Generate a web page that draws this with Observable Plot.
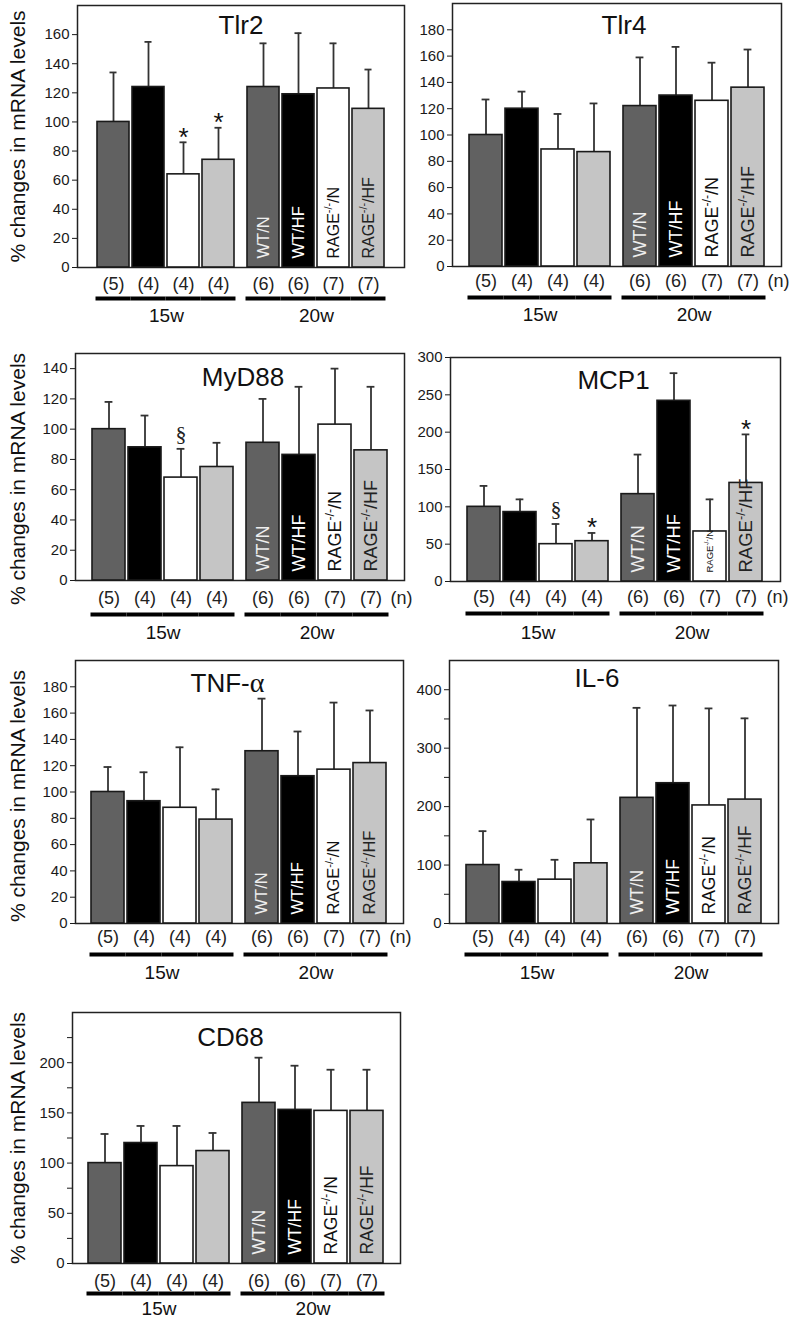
<!DOCTYPE html>
<html><head><meta charset="utf-8">
<script src="https://cdn.jsdelivr.net/npm/d3@7"></script>
<script src="https://cdn.jsdelivr.net/npm/@observablehq/plot@0.6"></script>
<style>
body{margin:0;background:#fff;}
#root{position:relative;width:791px;height:1319px;overflow:hidden;background:#fff;}
#root svg{position:absolute;}
</style></head><body><div id="root"></div>
<script>
// ---- data ----
const groups = ["WT/N", "WT/HF", "RAGE-/-/N", "RAGE-/-/HF"];
const ages = ["15w", "20w"];
const nCounts = [5, 4, 4, 4, 6, 6, 7, 7];
const yTitle = "% changes in mRNA levels";

const tlr2Mean  = [100, 124, 64, 74, 124, 119, 123, 109];
const tlr2Upper = [134, 155, 86, 96, 154, 161, 154, 136];
const tlr2Sig   = ["", "", "*", "*", "", "", "", ""];

const tlr4Mean  = [100, 120, 89, 87, 122, 130, 126, 136];
const tlr4Upper = [127, 133, 116, 124, 159, 167, 155, 165];

const myd88Mean  = [100, 88, 68, 75, 91, 83, 103, 86];
const myd88Upper = [118, 109, 87, 91, 120, 128, 140, 128];
const myd88Sig   = ["", "", "§", "", "", "", "", ""];

const mcp1Mean  = [100, 93, 50, 54, 117, 242, 67, 132];
const mcp1Upper = [128, 110, 77, 65, 170, 279, 110, 197];
const mcp1Sig   = ["", "", "§", "*", "", "", "", "*"];

const tnfMean  = [100, 93, 88, 79, 131, 112, 117, 122];
const tnfUpper = [119, 115, 134, 102, 171, 146, 168, 162];

const il6Mean  = [100, 71, 75, 103, 215, 240, 202, 212];
const il6Upper = [158, 92, 109, 178, 369, 373, 368, 351];

const cd68Mean  = [100, 120, 97, 112, 160, 153, 152, 152];
const cd68Upper = [129, 137, 137, 130, 205, 197, 193, 193];

const ticks20to180 = [0, 20, 40, 60, 80, 100, 120, 140, 160, 180];
const ticks20to160 = [0, 20, 40, 60, 80, 100, 120, 140, 160];
const ticks20to140 = [0, 20, 40, 60, 80, 100, 120, 140];
const ticks50to300 = [0, 50, 100, 150, 200, 250, 300];
const il6Ticks = [0, 50, 100, 150, 200, 250, 300, 350, 400];
const il6Labeled = [0, 100, 200, 300, 400];
const cd68Ticks = [0, 25, 50, 75, 100, 125, 150, 175, 200, 225];
const cd68Labeled = [0, 50, 100, 150, 200];

// ---- styles ----
const barColors = ["#616161", "#000000", "#ffffff", "#c5c5c5"];
const labelColors = ["#eeeeee", "#ffffff", "#111111", "#222222"];
const FONT = "'Liberation Sans', Arial, sans-serif";

const panels = [
  {name: "Tlr2", mean: tlr2Mean, upper: tlr2Upper, sig: tlr2Sig, yMax: 180, ticks: ticks20to160, labeled: ticks20to160,
   col: 0, L: 77, R: 404, T: 5, B: 267, titleDx: 0, titleDy: 20, yTitleDy: 0, labelSize: [16.5, 16.5, 16, 16], showN: false, nDy: 17, lineDy: 31, groupDy: 48},
  {name: "Tlr4", mean: tlr4Mean, upper: tlr4Upper, yMax: 200, ticks: ticks20to180, labeled: ticks20to180,
   col: 1, L: 452, R: 781, T: 3, B: 266, titleDx: 7, titleDy: 22, labelSize: [18, 18, 18, 18], showN: true, nDy: 15, lineDy: 31, groupDy: 48},
  {name: "MyD88", mean: myd88Mean, upper: myd88Upper, sig: myd88Sig, yMax: 150, ticks: ticks20to140, labeled: ticks20to140,
   col: 0, L: 75, R: 404, T: 353, B: 580, titleDx: 3, titleDy: 24, yTitleDy: 12, labelSize: [18, 18, 18, 18], showN: true, nDy: 18, lineDy: 34, groupDy: 52},
  {name: "MCP1", mean: mcp1Mean, upper: mcp1Upper, sig: mcp1Sig, yMax: 300, ticks: ticks50to300, labeled: ticks50to300,
   col: 1, L: 450, R: 780, T: 357, B: 581, titleDx: -2, titleDy: 23, labelSize: [18.5, 18.5, 9.5, 18.5], showN: true, nDy: 16, lineDy: 32, groupDy: 51},
  {name: "TNF-α", mean: tnfMean, upper: tnfUpper, yMax: 200, ticks: ticks20to180, labeled: ticks20to180,
   col: 0, L: 75, R: 403, T: 660, B: 923, titleDx: -12, titleDy: 23, yTitleDy: 4, labelSize: [16.5, 16.5, 16.5, 16.5], showN: true, nDy: 14, lineDy: 31, groupDy: 49},
  {name: "IL-6", mean: il6Mean, upper: il6Upper, yMax: 450, ticks: il6Ticks, labeled: il6Labeled,
   col: 1, L: 449, R: 778, T: 660, B: 923, titleDx: -17, titleDy: 18, labelSize: [17.5, 17.5, 17.5, 17.5], showN: false, nDy: 14, lineDy: 31, groupDy: 49},
  {name: "CD68", mean: cd68Mean, upper: cd68Upper, yMax: 250, ticks: cd68Ticks, labeled: cd68Labeled,
   col: 0, L: 72, R: 400, T: 1012, B: 1263, titleDx: -6, titleDy: 25, yTitleDy: 0, labelSize: [17.5, 17.5, 17.5, 17.5], showN: false, nDy: 18, lineDy: 30, groupDy: 45}
];

const root = document.getElementById("root");
const SVGNS = "http://www.w3.org/2000/svg";

function fixText(svg) {
  svg.querySelectorAll("text").forEach(t => {
    const s = t.textContent;
    if (s.includes("-/-")) {
      const fs = parseFloat(getComputedStyle(t).fontSize) || 16;
      const [a, b] = s.split("-/-");
      t.textContent = "";
      t.appendChild(document.createTextNode(a));
      const sup = document.createElementNS(SVGNS, "tspan");
      sup.setAttribute("font-size", (fs * 0.68).toFixed(1));
      sup.setAttribute("dy", (-fs * 0.4).toFixed(1));
      sup.textContent = "-/-";
      t.appendChild(sup);
      const rest = document.createElementNS(SVGNS, "tspan");
      rest.setAttribute("dy", (fs * 0.4).toFixed(1));
      rest.textContent = b;
      t.appendChild(rest);
    } else if (s.includes("α")) {
      const [a, b] = s.split("α");
      t.textContent = "";
      t.appendChild(document.createTextNode(a));
      const al = document.createElementNS(SVGNS, "tspan");
      al.setAttribute("font-family", "'Liberation Serif', 'Times New Roman', serif");
      al.setAttribute("font-size", "28");
      al.textContent = "α";
      t.appendChild(al);
      if (b) t.appendChild(document.createTextNode(b));
    }
  });
}

function makePanel(p) {
  const svgLeft = p.col === 0 ? 0 : 395;
  const mt = 4, mb = 66, mr = 16;
  const ml = p.L - svgLeft;
  const width = p.R - svgLeft + mr;
  const height = (p.B - p.T) + mt + mb;
  const data = p.mean.map((v, i) => ({
    key: ages[Math.floor(i / 4)] + " " + groups[i % 4],
    age: ages[Math.floor(i / 4)], gi: i % 4, group: groups[i % 4],
    mean: v, upper: p.upper[i], n: `(${nCounts[i]})`, sig: p.sig ? p.sig[i] : ""
  }));
  const keys = data.map(d => d.key);
  const gap = 10, pin = 0.083, pout = 0.45;
  const step = (p.R - p.L - gap) / (8 - pin + 2 * pout);
  const bw = step * (1 - pin);
  const capW = 8;
  const marks = [Plot.frame({stroke: "#222", strokeWidth: 1.5})];
  ages.forEach((age, ai) => {
    const sub = data.filter(d => d.age === age);
    const dx = ai * gap;
    marks.push(
      Plot.ruleX(sub, {x: "key", y1: "mean", y2: "upper", stroke: "#333", strokeWidth: 1.8, dx}),
      Plot.tickY(sub, {x: "key", y: "upper", stroke: "#333", strokeWidth: 1.8, insetLeft: (bw - capW) / 2, insetRight: (bw - capW) / 2, dx}),
      Plot.barY(sub, {x: "key", y: "mean", fill: d => barColors[d.gi], stroke: "#1a1a1a", strokeWidth: 1.6, dx}),
      Plot.text(sub, {x: "key", text: "n", frameAnchor: "bottom", lineAnchor: "middle", dy: p.nDy, fontSize: 18, fill: "#222", dx}),
      Plot.tickY(sub, {x: "key", y: () => 0, dy: p.lineDy, stroke: "#000", strokeWidth: 4, insetLeft: -(step - bw) / 2, insetRight: -(step - bw) / 2, dx}),
      Plot.text([age], {x: () => sub[1].key, text: d => d, frameAnchor: "bottom", lineAnchor: "middle", dy: p.groupDy, dx: dx + step / 2, fontSize: 19, fill: "#111"}),
      Plot.text(sub.filter(d => d.sig === "*"), {x: "key", y: "upper", text: "sig", fontSize: 26, dy: -5, dx, fill: "#111"}),
      Plot.text(sub.filter(d => d.sig === "§"), {x: "key", y: "upper", text: "sig", fontSize: 22, dy: -15, dx, fill: "#222", fontFamily: "'Liberation Serif', serif"})
    );
    if (ai === 1) {
      marks.push(Plot.text(sub, {x: "key", y: () => 0, text: "group", rotate: -90, textAnchor: "start", lineAnchor: "middle", dy: -9, dx,
        fill: d => labelColors[d.gi], fontSize: d => p.labelSize[d.gi]}));
    }
  });
  marks.push(Plot.text([p.name], {text: d => d, frameAnchor: "top", lineAnchor: "middle", textAnchor: "middle", dy: p.titleDy, dx: p.titleDx, fontSize: 26, fill: "#111"}));
  if (p.showN) marks.push(Plot.text(["(n)"], {text: d => d, frameAnchor: "bottom-right", textAnchor: "middle", lineAnchor: "middle", dy: p.nDy, dx: -3, fontSize: 18, fill: "#222"}));
  if (p.col === 0) marks.push(Plot.text([yTitle], {text: d => d, frameAnchor: "left", textAnchor: "middle", lineAnchor: "middle", rotate: -90, dx: 18 - p.L, dy: p.yTitleDy, fontSize: 21, fill: "#111"}));

  const svg = Plot.plot({
    width, height, marginLeft: ml, marginRight: mr, marginTop: mt, marginBottom: mb,
    x: {domain: keys, paddingInner: pin, paddingOuter: pout, insetRight: gap, axis: null},
    y: {domain: [0, p.yMax], ticks: p.ticks, tickFormat: d => p.labeled.includes(d) ? String(d) : "", tickSize: 5, tickPadding: 3, label: null},
    color: {type: "identity"},
    style: {background: "transparent", overflow: "visible", fontFamily: FONT, fontSize: "15px", color: "#1a1a1a", maxWidth: "none"},
    marks
  });
  svg.style.left = svgLeft + "px";
  svg.style.top = (p.T - mt) + "px";
  root.appendChild(svg);
  fixText(svg);
}

panels.forEach(makePanel);
</script></body></html>
